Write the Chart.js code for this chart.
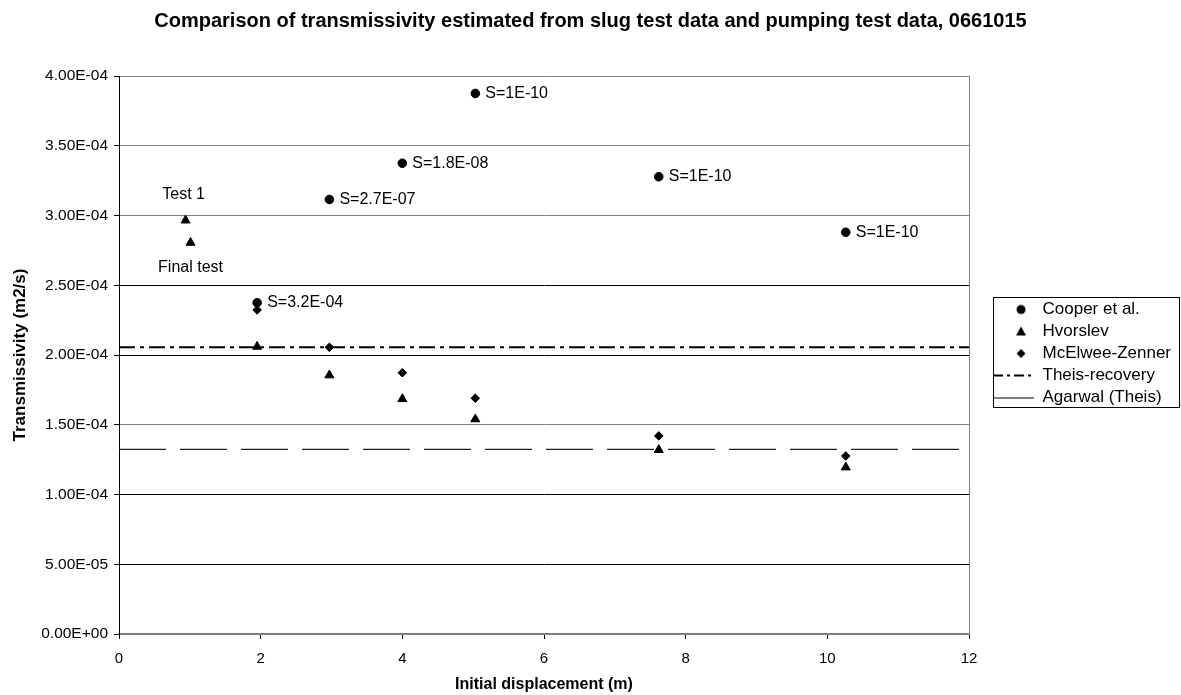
<!DOCTYPE html>
<html lang="en">
<head>
  <meta charset="UTF-8" />
  <title>Transmissivity comparison, 0661015</title>
  <script src="https://cdn.jsdelivr.net/npm/chart.js"></script>
  <style>
    body { margin: 0; background: #fff; }
  </style>
</head>
<body>
  <canvas id="tChart" width="1181" height="695"></canvas>

  <script>
    // slug test results (initial displacement in m, transmissivity in m2/s)
    const cooperX = [1.95, 2.97, 4.0, 5.03, 7.62, 10.26];
    const cooperT = [2.375e-4, 3.115e-4, 3.375e-4, 3.875e-4, 3.278e-4, 2.88e-4];
    const cooperNotes = ['S=3.2E-04', 'S=2.7E-07', 'S=1.8E-08', 'S=1E-10', 'S=1E-10', 'S=1E-10'];

    const hvorslevX = [0.94, 1.01, 1.95, 2.97, 4.0, 5.03, 7.62, 10.26];
    const hvorslevT = [2.965e-4, 2.805e-4, 2.06e-4, 1.855e-4, 1.685e-4, 1.54e-4, 1.32e-4, 1.195e-4];
    const hvorslevNotes = ['Test 1', 'Final test'];

    const mcelweeX = [1.95, 2.97, 4.0, 5.03, 7.62, 10.26];
    const mcelweeT = [2.323e-4, 2.055e-4, 1.873e-4, 1.69e-4, 1.42e-4, 1.276e-4];

    // pumping test results, drawn across the whole x range
    const lineX = [0, 12];
    const theisT = 2.055e-4;
    const agarwalT = 1.324e-4;

    const seriesNames = ['Cooper et al.', 'Hvorslev', 'McElwee-Zenner', 'Theis-recovery', 'Agarwal (Theis)'];

    const toPts = (xs, ys) => xs.map((x, i) => ({ x: x, y: ys[i] }));

    function sci(v) {
      const parts = Number(v).toExponential(2).split('e');
      const sign = parts[1][0];
      const exp = parts[1].slice(1).padStart(2, '0');
      return parts[0] + 'E' + sign + exp;
    }

    // little legend swatches
    function icon(draw) {
      const c = document.createElement('canvas');
      c.width = 60; c.height = 14;
      const g = c.getContext('2d');
      g.fillStyle = '#000'; g.strokeStyle = '#000';
      draw(g);
      return c;
    }
    const legendIcons = [
      icon(g => { g.beginPath(); g.arc(47, 7, 4.5, 0, Math.PI * 2); g.fill(); }),
      icon(g => { g.beginPath(); g.moveTo(47, 2); g.lineTo(52, 11); g.lineTo(42, 11); g.closePath(); g.fill(); }),
      icon(g => { g.beginPath(); g.moveTo(47, 2.5); g.lineTo(51.5, 7); g.lineTo(47, 11.5); g.lineTo(42.5, 7); g.closePath(); g.fill(); }),
      icon(g => { g.lineWidth = 2; g.setLineDash([10, 4, 3, 4]); g.beginPath(); g.moveTo(19, 7); g.lineTo(60, 7); g.stroke(); }),
      icon(g => { g.lineWidth = 1; g.beginPath(); g.moveTo(19, 7.5); g.lineTo(60, 7.5); g.stroke(); })
    ];

    const notesPlugin = {
      id: 'notes',
      afterDatasetsDraw(chart) {
        const ctx = chart.ctx;
        ctx.save();
        ctx.fillStyle = '#000';
        ctx.font = '16px Arial, "Liberation Sans", sans-serif';
        ctx.textBaseline = 'middle';
        ctx.textAlign = 'left';
        chart.getDatasetMeta(0).data.forEach((pt, i) => {
          ctx.fillText(cooperNotes[i], pt.x + 10, pt.y);
        });
        ctx.textAlign = 'center';
        const hv = chart.getDatasetMeta(1).data;
        ctx.fillText(hvorslevNotes[0], hv[0].x - 2, hv[0].y - 26);
        ctx.fillText(hvorslevNotes[1], hv[1].x, hv[1].y + 25);
        ctx.restore();
      }
    };

    const legendBox = {
      id: 'legendBox',
      afterDraw(chart) {
        const lg = chart.legend;
        const boxes = lg.legendHitBoxes;
        if (!boxes || !boxes.length) return;
        const last = boxes[boxes.length - 1];
        const ctx = chart.ctx;
        ctx.save();
        ctx.strokeStyle = '#000';
        ctx.lineWidth = 1;
        const top = Math.round(boxes[0].top - 4) + 0.5;
        const bottom = Math.round(last.top + last.height + 1) + 0.5;
        const left = Math.round(lg.left + 24) + 0.5;
        ctx.strokeRect(left, top, 1179.5 - left, bottom - top);
        ctx.restore();
      }
    };

    // grid line shades, bottom to top
    const gridShades = ['transparent', '#000', '#000', '#808080', '#000', '#000', '#808080', '#808080', '#808080'];

    Chart.defaults.font.family = 'Arial, "Liberation Sans", sans-serif';
    Chart.defaults.color = '#000';

    new Chart(document.getElementById('tChart'), {
      type: 'scatter',
      data: {
        datasets: [
          {
            label: seriesNames[0],
            data: toPts(cooperX, cooperT),
            pointStyle: 'circle', pointRadius: 4.3,
            backgroundColor: '#000', borderColor: '#000', borderWidth: 1
          },
          {
            label: seriesNames[1],
            data: toPts(hvorslevX, hvorslevT),
            pointStyle: 'triangle', pointRadius: 5.2,
            backgroundColor: '#000', borderColor: '#000', borderWidth: 1
          },
          {
            label: seriesNames[2],
            data: toPts(mcelweeX, mcelweeT),
            pointStyle: 'rectRot', pointRadius: 4.3,
            backgroundColor: '#000', borderColor: '#000', borderWidth: 1
          },
          {
            label: seriesNames[3],
            data: toPts(lineX, [theisT, theisT]),
            showLine: true, pointRadius: 0,
            borderColor: '#000', borderWidth: 2, borderDash: [16, 5, 4, 5]
          },
          {
            label: seriesNames[4],
            data: toPts(lineX, [agarwalT, agarwalT]),
            showLine: true, pointRadius: 0,
            borderColor: '#222', borderWidth: 1.3, borderDash: [47, 14]
          }
        ]
      },
      options: {
        responsive: false,
        animation: false,
        layout: { padding: { left: 0, right: 0, top: 0, bottom: 0 } },
        plugins: {
          tooltip: { enabled: false },
          title: {
            display: true,
            text: 'Comparison of transmissivity estimated from slug test data and pumping test data, 0661015',
            font: { size: 20, weight: 'bold' },
            color: '#000',
            padding: { top: 9, bottom: 43 }
          },
          legend: {
            position: 'right',
            title: { display: true, text: ' ', font: { size: 10 }, padding: 0 },
            labels: {
              usePointStyle: true,
              pointStyleWidth: 60,
              boxHeight: 14,
              padding: 5,
              font: { size: 17 },
              color: '#000',
              generateLabels(chart) {
                const items = Chart.defaults.plugins.legend.labels.generateLabels(chart);
                return items.map((it, i) => Object.assign(it, { pointStyle: legendIcons[i], lineDash: [] }));
              }
            }
          }
        },
        scales: {
          x: {
            type: 'linear',
            min: 0, max: 12,
            afterFit(scale) { scale.height = 61; },
            ticks: { stepSize: 2, font: { size: 15 }, padding: 11, color: '#000' },
            grid: {
              color: c => (c.tick && c.tick.value === 12 ? '#808080' : 'transparent'),
              tickColor: '#000',
              tickLength: 5
            },
            border: { color: '#808080', width: 2 },
            title: {
              display: true,
              text: 'Initial displacement (m)',
              font: { size: 16, weight: 'bold' },
              color: '#000',
              padding: { top: 0, bottom: 1 }
            }
          },
          y: {
            min: 0, max: 4e-4,
            afterFit(scale) { scale.width = 119; },
            ticks: { stepSize: 5e-5, font: { size: 15.5 }, padding: 6, color: '#000', callback: v => sci(v) },
            grid: {
              color: c => gridShades[c.index] || '#000',
              tickColor: '#000',
              tickLength: 5
            },
            border: { color: '#000', width: 1 },
            title: {
              display: true,
              text: 'Transmissivity (m2/s)',
              font: { size: 17, weight: 'bold' },
              color: '#000',
              padding: { top: 10, bottom: 0 }
            }
          }
        }
      },
      plugins: [notesPlugin, legendBox]
    });
  </script>
</body>
</html>
